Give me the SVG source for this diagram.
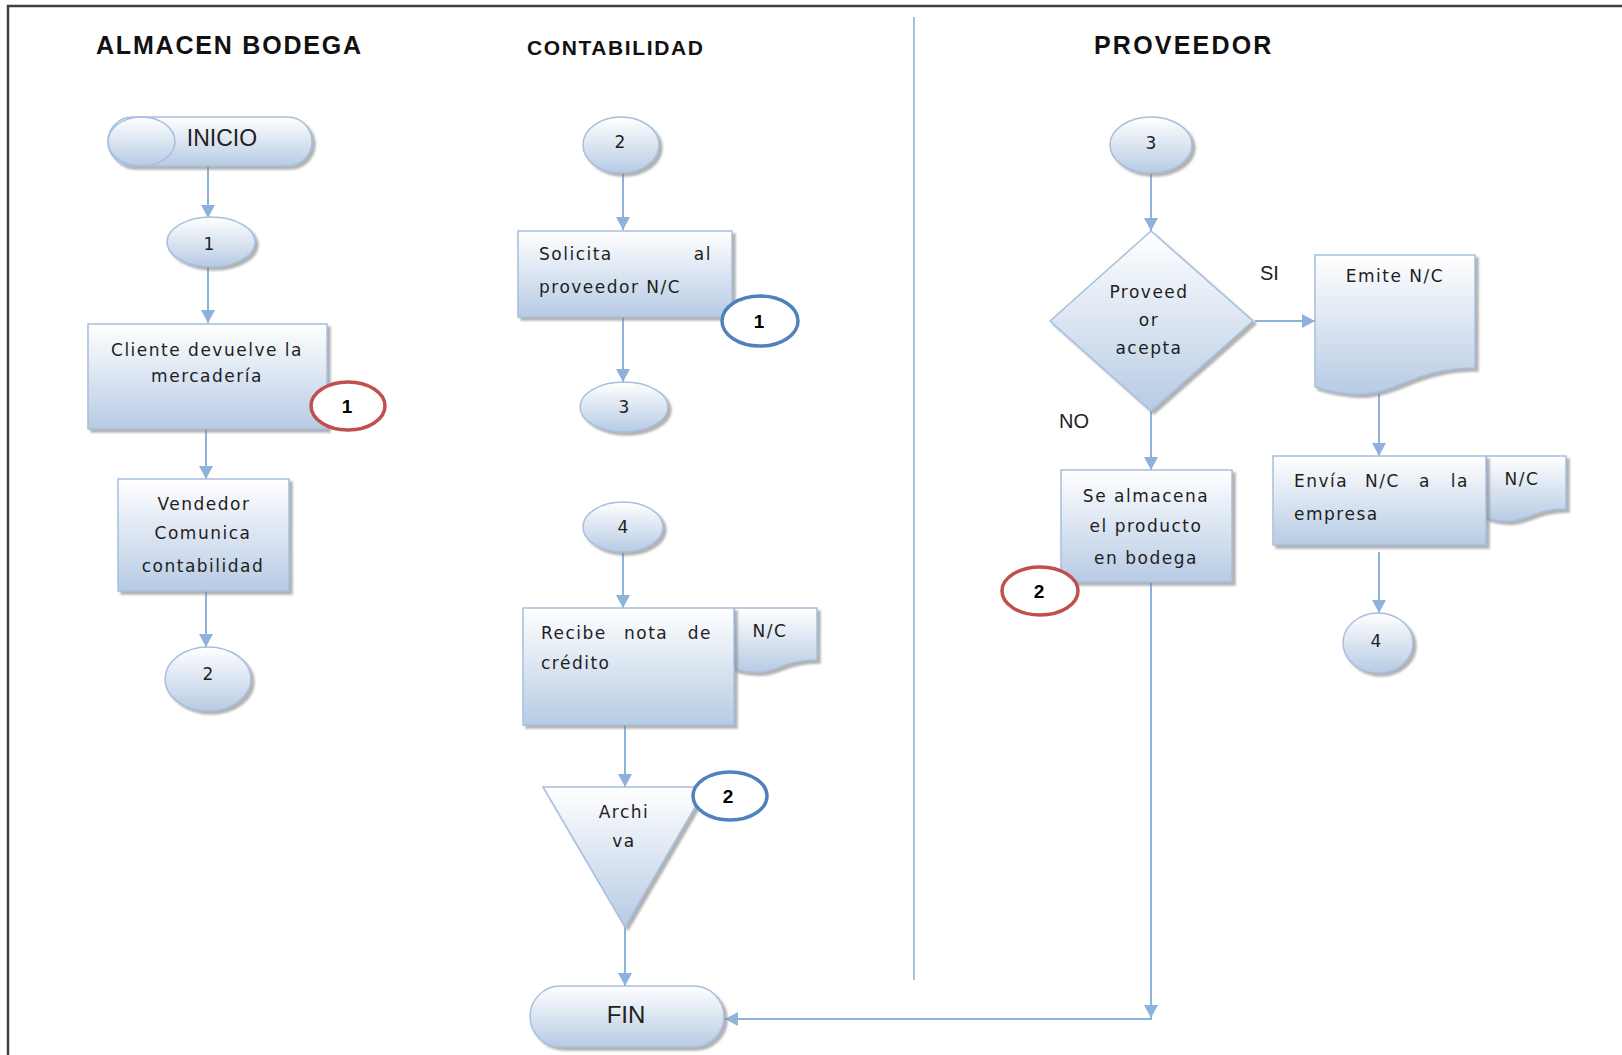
<svg xmlns="http://www.w3.org/2000/svg" width="1622" height="1055" viewBox="0 0 1622 1055">
  <defs>
    <linearGradient id="fillGrad" x1="0" y1="0" x2="0" y2="1">
      <stop offset="0" stop-color="#ffffff"/>
      <stop offset="1" stop-color="#b7cbe4"/>
    </linearGradient>
    <filter id="shadow" x="-10%" y="-10%" width="130%" height="130%">
      <feDropShadow dx="3" dy="3" stdDeviation="1.2" flood-color="#7f7f7f" flood-opacity="0.6"/>
    </filter>
    <marker id="arrow" markerUnits="userSpaceOnUse" markerWidth="16" markerHeight="16" refX="13" refY="7" orient="auto">
      <path d="M0,0 L13,7 L0,14 Z" fill="#8fb2dc"/>
    </marker>
    <style>
      .shape { fill: url(#fillGrad); stroke: #a7bfde; stroke-width: 1.5; filter: url(#shadow); }
      .conn { fill: none; stroke: #8fb2dc; stroke-width: 2; }
      .title { font-family: "Liberation Sans", Arial, sans-serif; font-weight: bold; fill: #111; }
      .lbl { font-family: "DejaVu Sans", Verdana, sans-serif; font-size: 17px; letter-spacing: 1.5px; fill: #1e1e1e; }
      .mid { text-anchor: middle; }
      .end { text-anchor: end; }
      .num { font-family: "DejaVu Sans", Verdana, sans-serif; font-size: 17px; fill: #1e1e1e; text-anchor: middle; }
      .term { font-family: "Liberation Sans", Arial, sans-serif; fill: #222; text-anchor: middle; }
      .note { fill: #ffffff; stroke-width: 3.5; }
      .red { stroke: #c0504d; }
      .blue { stroke: #4f81bd; }
      .noteText { font-family: "Liberation Sans", Arial, sans-serif; font-weight: bold; font-size: 19px; fill: #000; text-anchor: middle; }
      .branch { font-family: "Liberation Sans", Arial, sans-serif; font-size: 20px; fill: #222; }
    </style>
  </defs>

  <rect width="1622" height="1055" fill="#ffffff"/>

  <!-- page frame -->
  <path d="M8,1055 V6 H1622" fill="none" stroke="#404040" stroke-width="2.5"/>

  <!-- lane divider -->
  <line x1="914" y1="17" x2="914" y2="980" stroke="#a9c2e0" stroke-width="2"/>

  <!-- lane titles -->
  <text class="title" x="96" y="54" font-size="25" letter-spacing="1.8">ALMACEN BODEGA</text>
  <text class="title" x="527" y="55" font-size="21" letter-spacing="1.6">CONTABILIDAD</text>
  <text class="title" x="1094" y="54" font-size="25" letter-spacing="2.2">PROVEEDOR</text>

  <!-- connectors -->
  <g id="connectors">
    <line class="conn" x1="208" y1="166" x2="208" y2="218" marker-end="url(#arrow)"/>
    <line class="conn" x1="208" y1="267" x2="208" y2="323" marker-end="url(#arrow)"/>
    <line class="conn" x1="206" y1="421" x2="206" y2="479" marker-end="url(#arrow)"/>
    <line class="conn" x1="206" y1="591" x2="206" y2="647" marker-end="url(#arrow)"/>

    <line class="conn" x1="623" y1="173" x2="623" y2="230" marker-end="url(#arrow)"/>
    <line class="conn" x1="623" y1="317" x2="623" y2="382" marker-end="url(#arrow)"/>
    <line class="conn" x1="623" y1="552" x2="623" y2="608" marker-end="url(#arrow)"/>
    <line class="conn" x1="625" y1="725" x2="625" y2="787" marker-end="url(#arrow)"/>
    <line class="conn" x1="625" y1="927" x2="625" y2="986" marker-end="url(#arrow)"/>

    <line class="conn" x1="1151" y1="174" x2="1151" y2="231" marker-end="url(#arrow)"/>
    <line class="conn" x1="1255" y1="321" x2="1315" y2="321" marker-end="url(#arrow)"/>
    <line class="conn" x1="1151" y1="411" x2="1151" y2="470" marker-end="url(#arrow)"/>
    <line class="conn" x1="1379" y1="394" x2="1379" y2="456" marker-end="url(#arrow)"/>
    <line class="conn" x1="1379" y1="552" x2="1379" y2="613" marker-end="url(#arrow)"/>
    <line class="conn" x1="1151" y1="582" x2="1151" y2="1018" marker-end="url(#arrow)"/>
    <line class="conn" x1="1152" y1="1019" x2="725" y2="1019" marker-end="url(#arrow)"/>
  </g>

  <!-- ALMACEN BODEGA lane -->
  <g id="inicio">
    <rect class="shape" x="108" y="117" width="204" height="49" rx="24.5"/>
    <ellipse cx="141.5" cy="141.5" rx="33.5" ry="24.5" fill="none" stroke="#a7bfde" stroke-width="1.5"/>
    <text class="term" x="222" y="146" font-size="23">INICIO</text>
  </g>
  <g id="con-1a">
    <ellipse class="shape" cx="211" cy="242" rx="44" ry="25"/>
    <text class="num" x="209" y="250">1</text>
  </g>
  <g id="cliente-devuelve">
    <rect class="shape" x="88" y="324" width="239" height="105"/>
    <text class="lbl mid" x="207" y="356">Cliente devuelve la</text>
    <text class="lbl mid" x="207" y="382">mercadería</text>
  </g>
  <g id="nota-r1">
    <ellipse class="note red" cx="348" cy="406" rx="37" ry="24"/>
    <text class="noteText" x="347" y="413">1</text>
  </g>
  <g id="vendedor-comunica">
    <rect class="shape" x="118" y="479" width="171" height="112"/>
    <text class="lbl mid" x="204" y="510">Vendedor</text>
    <text class="lbl mid" x="203" y="539">Comunica</text>
    <text class="lbl mid" x="203" y="572">contabilidad</text>
  </g>
  <g id="con-2a">
    <ellipse class="shape" cx="208" cy="679" rx="43" ry="32"/>
    <text class="num" x="208" y="680">2</text>
  </g>

  <!-- CONTABILIDAD lane -->
  <g id="con-2b">
    <ellipse class="shape" cx="621" cy="145" rx="38" ry="28"/>
    <text class="num" x="620" y="148">2</text>
  </g>
  <g id="solicita-nc">
    <rect class="shape" x="518" y="231" width="214" height="86"/>
    <text class="lbl" x="539" y="260">Solicita</text>
    <text class="lbl end" x="712" y="260">al</text>
    <text class="lbl" x="539" y="293">proveedor N/C</text>
  </g>
  <g id="nota-b1">
    <ellipse class="note blue" cx="760" cy="321" rx="38" ry="25"/>
    <text class="noteText" x="759" y="328">1</text>
  </g>
  <g id="con-3a">
    <ellipse class="shape" cx="624" cy="407" rx="44" ry="25"/>
    <text class="num" x="624" y="413">3</text>
  </g>
  <g id="con-4a">
    <ellipse class="shape" cx="623" cy="527" rx="40" ry="25"/>
    <text class="num" x="623" y="533">4</text>
  </g>
  <g id="recibe-nota">
    <path class="shape" d="M734,608 H817 V660 C775.5,660 775.5,680 734,669 Z"/>
    <rect class="shape" x="523" y="608" width="211" height="117"/>
    <text class="lbl" x="541" y="639">Recibe</text>
    <text class="lbl" x="624" y="639">nota</text>
    <text class="lbl end" x="712" y="639">de</text>
    <text class="lbl" x="541" y="669">crédito</text>
    <text class="lbl mid" x="770" y="637">N/C</text>
  </g>
  <g id="archiva">
    <path class="shape" d="M543,787 H707 L625,927 Z"/>
    <text class="lbl mid" x="624" y="818">Archi</text>
    <text class="lbl mid" x="624" y="847">va</text>
  </g>
  <g id="nota-b2">
    <ellipse class="note blue" cx="730" cy="796" rx="37" ry="24"/>
    <text class="noteText" x="728" y="803">2</text>
  </g>
  <g id="fin">
    <rect class="shape" x="530" y="986" width="194" height="61" rx="30.5"/>
    <text class="term" x="626" y="1023" font-size="24">FIN</text>
  </g>

  <!-- PROVEEDOR lane -->
  <g id="con-3b">
    <ellipse class="shape" cx="1151" cy="145" rx="41" ry="28"/>
    <text class="num" x="1151" y="149">3</text>
  </g>
  <g id="proveedor-acepta">
    <path class="shape" d="M1151,231 L1253,321 L1151,411 L1050,321 Z"/>
    <text class="lbl mid" x="1149" y="298">Proveed</text>
    <text class="lbl mid" x="1149" y="326">or</text>
    <text class="lbl mid" x="1149" y="354">acepta</text>
  </g>
  <text class="branch" x="1260" y="280">SI</text>
  <text class="branch" x="1059" y="428">NO</text>
  <g id="emite-nc">
    <path class="shape" d="M1315,255 H1475 V368 C1395,368 1395,411 1315,387 Z"/>
    <text class="lbl mid" x="1395" y="282">Emite N/C</text>
  </g>
  <g id="envia-nc">
    <path class="shape" d="M1486,456 H1566 V509 C1526,509 1526,529 1486,518 Z"/>
    <rect class="shape" x="1273" y="456" width="213" height="89"/>
    <text class="lbl" x="1294" y="487">Envía</text>
    <text class="lbl" x="1365" y="487">N/C</text>
    <text class="lbl" x="1419" y="487">a</text>
    <text class="lbl end" x="1469" y="487">la</text>
    <text class="lbl" x="1294" y="520">empresa</text>
    <text class="lbl mid" x="1522" y="485">N/C</text>
  </g>
  <g id="con-4b">
    <ellipse class="shape" cx="1378" cy="643" rx="35" ry="30"/>
    <text class="num" x="1376" y="647">4</text>
  </g>
  <g id="almacena-producto">
    <rect class="shape" x="1061" y="470" width="171" height="112"/>
    <text class="lbl mid" x="1146" y="502">Se almacena</text>
    <text class="lbl mid" x="1146" y="532">el producto</text>
    <text class="lbl mid" x="1146" y="564">en bodega</text>
  </g>
  <g id="nota-r2">
    <ellipse class="note red" cx="1040" cy="591" rx="38" ry="24"/>
    <text class="noteText" x="1039" y="598">2</text>
  </g>
</svg>
